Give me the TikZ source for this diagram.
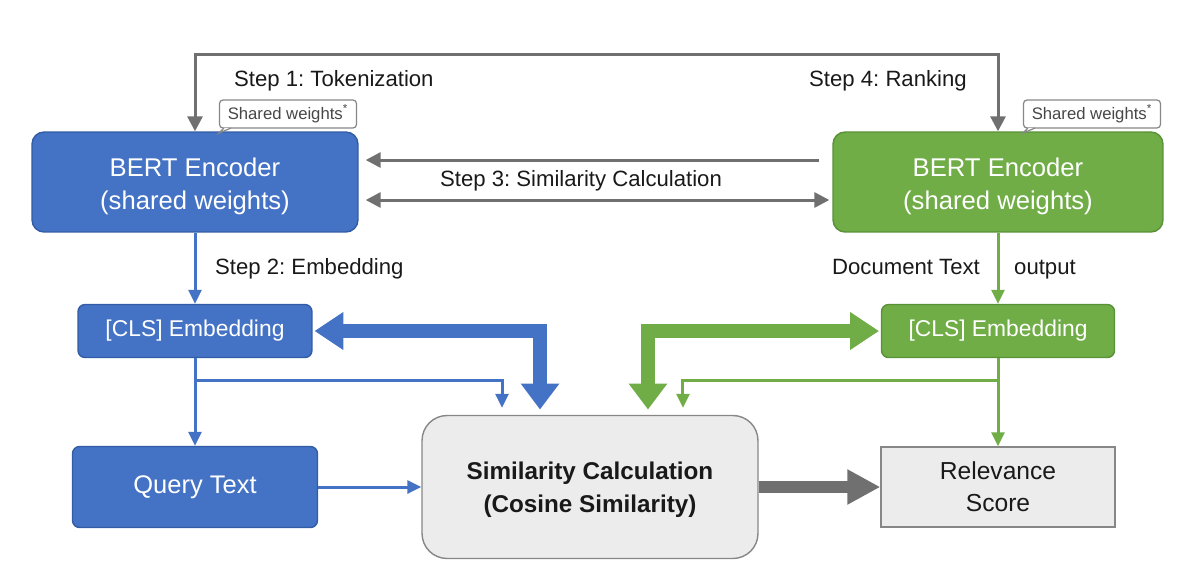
\documentclass[tikz,border=0pt]{standalone}
\usepackage{fontspec}
\setmainfont{Liberation Sans}
\usetikzlibrary{calc,arrows.meta,positioning}
\frenchspacing
\definecolor{encBlue}{RGB}{68,114,196}
\definecolor{encBlueDark}{RGB}{50,92,165}
\definecolor{encGreen}{RGB}{112,173,71}
\definecolor{encGreenDark}{RGB}{88,145,55}
\definecolor{lineGray}{RGB}{112,112,112}
\definecolor{boxGray}{RGB}{236,236,236}
\definecolor{edgeGray}{RGB}{135,135,135}
\definecolor{inkDark}{RGB}{25,25,25}
\tikzset{
  encBox/.style={rounded corners=0.24cm,fill=#1,draw=#1Dark,line width=0.8pt,text=white,align=center},
  noteBox/.style={rounded corners=2pt,fill=white,draw=edgeGray,line width=0.7pt,minimum width=2.74cm,minimum height=0.56cm,inner sep=1pt,font=\fontsize{9.5}{10}\selectfont,text=inkDark!80},
  stepLabel/.style={font=\fontsize{12.6}{14}\selectfont,text=inkDark},
  thinLink/.style={line width=0.06cm,draw=#1,-{Triangle[length=0.28cm,width=0.26cm]}},
  grayLink/.style={line width=0.06cm,draw=lineGray},
  fatLink/.style={line width=0.28cm,draw=#1,{Triangle[length=0.58cm,width=0.72cm]}-{Triangle[length=0.52cm,width=0.74cm]}}
}
\begin{document}
\begin{tikzpicture}[x=0.02cm,y=-0.02cm]
\useasboundingbox (0,0) rectangle (1180,562);

\node[encBox=encBlue,minimum width=6.52cm,minimum height=2cm,font=\fontsize{14.6}{18.7}\selectfont] (lbert) at (195,182) {\rule{0pt}{16pt}BERT Encoder\\(shared weights)};
\node[encBox=encGreen,minimum width=6.6cm,minimum height=2cm,font=\fontsize{14.6}{18.7}\selectfont] (rbert) at (998,182) {\rule{0pt}{16pt}BERT Encoder\\(shared weights)};
\node[encBox=encBlue,rounded corners=0.14cm,minimum width=4.68cm,minimum height=1.06cm,font=\fontsize{13}{15}\selectfont] (lcls) at (195,331) {[CLS] Embedding};
\node[encBox=encGreen,rounded corners=0.14cm,minimum width=4.66cm,minimum height=1.06cm,font=\fontsize{13}{15}\selectfont] (rcls) at (998,331) {[CLS] Embedding};
\node[encBox=encBlue,rounded corners=0.14cm,minimum width=4.9cm,minimum height=1.62cm,font=\fontsize{14.5}{16}\selectfont] (query) at (195,487) {Query Text};
\node[rounded corners=0.5cm,fill=boxGray,draw=edgeGray,line width=0.8pt,minimum width=6.72cm,minimum height=2.86cm,align=center,text=inkDark,font=\bfseries\fontsize{13.8}{18.7}\selectfont] (sim) at (590,487) {\rule{0pt}{13pt}Similarity Calculation\\(Cosine Similarity)};
\node[fill=boxGray,draw=edgeGray,line width=0.8pt,minimum width=4.68cm,minimum height=1.6cm,align=center,text=inkDark,font=\fontsize{14}{18}\selectfont] (rel) at (998,487) {Relevance\\Score};

\node[noteBox] (lnote) at (288,114) {Shared weights\textsuperscript{*}};
\node[noteBox] (rnote) at (1092,114) {Shared weights\textsuperscript{*}};
\foreach \n in {lnote,rnote}
  \draw[draw=edgeGray,line width=0.7pt,fill=white] ([xshift=0.1cm,yshift=0.3pt]\n.south west) -- ++(-0.1cm,-0.1cm) -- ++(0.24cm,0.1cm);

\draw[grayLink,{Triangle[length=0.3cm,width=0.3cm]}-{Triangle[length=0.3cm,width=0.3cm]}] (lbert.north) -- ++(0,-77) -| (rbert.north);
\node[stepLabel,anchor=base west] (s1) at (228,86) {Step 1: Tokenization};
\node[stepLabel,anchor=base west] (s4) at (803,86) {Step 4: Ranking};

\draw[grayLink,-{Triangle[length=0.3cm,width=0.3cm]}] ([xshift=-0.26cm,yshift=0.44cm]rbert.west) -- ([xshift=0.14cm,yshift=0.44cm]lbert.east);
\draw[grayLink,{Triangle[length=0.3cm,width=0.3cm]}-{Triangle[length=0.3cm,width=0.3cm]}] ([xshift=0.14cm,yshift=-0.36cm]lbert.east) -- ([xshift=-0.06cm,yshift=-0.36cm]rbert.west);
\node[stepLabel,anchor=base] (s3) at (581,186) {Step 3: Similarity Calculation};

\draw[thinLink=encBlue] (lbert) -- (lcls);
\node[stepLabel,anchor=base west] (s2) at (209,274) {Step 2: Embedding};
\draw[thinLink=encGreen] (rbert) -- (rcls);
\node[stepLabel,anchor=base east] (doc) at (986,274) {Document Text};
\node[stepLabel,anchor=base west] (out) at (1008,274) {output};

\draw[fatLink=encBlue,shorten <=1pt,shorten >=3pt] (lcls.east) -| ([xshift=-1.0cm]sim.north);
\draw[fatLink=encGreen,shorten <=1pt,shorten >=3pt] (rcls.west) -| ([xshift=1.16cm]sim.north);

\draw[thinLink=encBlue,shorten >=4pt] (lcls.south) -- ++(0,22) -| ([xshift=-1.76cm]sim.north);
\draw[thinLink=encBlue] (lcls) -- (query);
\draw[thinLink=encBlue] (query) -- (sim);
\draw[thinLink=encGreen,shorten >=4pt] (rcls.south) -- ++(0,22) -| ([xshift=1.86cm]sim.north);
\draw[thinLink=encGreen] (rcls) -- (rel);

\draw[line width=0.24cm,draw=lineGray,-{Triangle[length=0.66cm,width=0.66cm]}] (sim) -- (rel);
\end{tikzpicture}
\end{document}
